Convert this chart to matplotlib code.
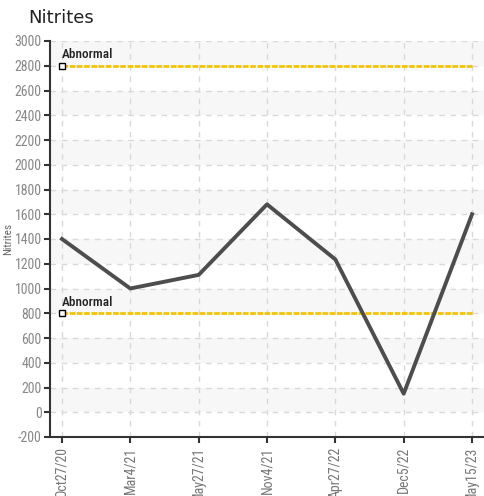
import matplotlib.pyplot as plt
from matplotlib import font_manager

fechas = ['Oct27/20', 'Mar4/21', 'May27/21', 'Nov4/21', 'Apr27/22', 'Dec5/22', 'May15/23']
nitritos = [1400, 1000, 1110, 1680, 1235, 150, 1600]
limites = [2800, 800]  # lineas de "Abnormal"

nombres = set(f.name for f in font_manager.fontManager.ttflist)
fuente = 'Roboto Condensed' if 'Roboto Condensed' in nombres else 'DejaVu Sans'
plt.rcParams['font.family'] = [fuente, 'DejaVu Sans']
plt.rcParams['axes.unicode_minus'] = False

fig = plt.figure(figsize=(4.84, 4.96), dpi=100)
ax = fig.add_axes([50/484, 1-437/496, 1-50/484, (437-41)/496])

x = list(range(len(fechas)))
ax.set_xlim(-0.175, len(fechas) - 1 + 0.175)
ax.set_ylim(-200, 3000)

# bandas grises alternas
for y0 in range(0, 3000, 400):
    ax.axhspan(y0, y0 + 200, color='#f7f7f7', zorder=0, lw=0)

ax.grid(True, linestyle=(0, (4, 4)), color='#d9d9d9', linewidth=1)
ax.set_axisbelow(True)

for lim in limites:
    ax.plot([x[0], x[-1]], [lim, lim], color='#f5c400', linewidth=2, linestyle=(0, (2, 0.6)), zorder=2)
    ax.plot([x[0]], [lim], marker='s', markersize=4, markerfacecolor='white',
            markeredgecolor='black', markeredgewidth=1, zorder=4, clip_on=False)
    ax.text(x[0], lim + 35, 'Abnormal', fontsize=9.5, color='#222222', va='bottom', ha='left',
            zorder=4, fontweight='medium')

ax.plot(x, nitritos, color='#4d4d4d', linewidth=2.8, zorder=3)

ax.set_xticks(x)
ax.set_xticklabels(fechas, rotation=90, fontsize=10, color='#777777')
ax.set_yticks(range(-200, 3001, 200))
ax.tick_params(axis='y', labelsize=10, labelcolor='#888888', color='#333333', length=4, width=1.5, pad=2)
ax.tick_params(axis='x', color='#333333', length=4, width=1.5, pad=3)

for s in ['top', 'right']:
    ax.spines[s].set_visible(False)
for s in ['left', 'bottom']:
    ax.spines[s].set_color('#333333')
    ax.spines[s].set_linewidth(1.5)

ax.set_ylabel('Nitrites', fontsize=8, color='#666666', labelpad=1)
fig.text(28/484, 1-18/496, 'Nitrites', fontsize=13, color='#222222', va='center', ha='left',
         family='DejaVu Sans')

plt.savefig('out.png', dpi=100)
